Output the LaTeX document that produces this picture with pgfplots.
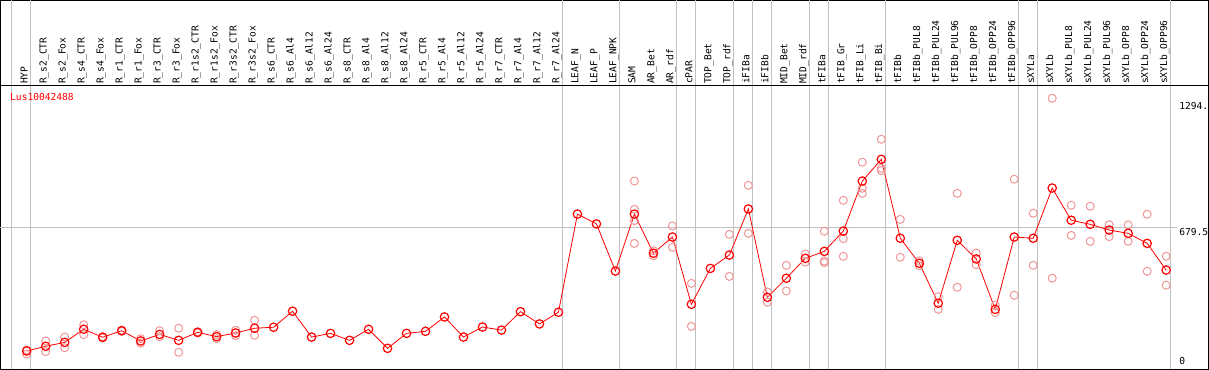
\documentclass[border=0pt]{standalone}
\usepackage{fontspec}
\setmonofont{DejaVu Sans Mono}
\usepackage{pgfplots}
\pgfplotsset{compat=1.18}
\definecolor{mainred}{RGB}{255,0,0}
\definecolor{palered}{RGB}{240,150,150}
\definecolor{sepgray}{RGB}{192,192,192}
\newcommand{\lab}[2]{\node[rotate=90, anchor=base west, inner sep=0pt] at (axis cs:#1+0.05,1380.5) {#2};}
\begin{document}
\begin{tikzpicture}
\begin{axis}[scale only axis, width=1208pt, height=369pt,
  xmin=-1.38, xmax=62.23, ymin=-12.2, ymax=1787.8,
  xtick=\empty, ytick=\empty,
  axis line style={black, line width=1pt},
  clip=false,
  font=\ttfamily\fontsize{9.6}{10}\selectfont]
% separators
\pgfplotsinvokeforeach{-0.8,0.22,28.22,31.22,34.22,35.22,37.22,38.22,39.22,41.22,42.22,45.22,52.22,53.22,60.22}{
  \draw[sepgray, line width=1pt] (axis cs:#1,-12.2) -- (axis cs:#1,1787.8);
}
\draw[sepgray, line width=1pt] (axis cs:-1.38,679.5) -- (axis cs:60.57,679.5);
\draw[black, line width=1pt] (axis cs:-1.38,1373) -- (axis cs:62.23,1373);
% category labels
\lab{0}{HYP}
\lab{1}{R\_s2\_CTR}
\lab{2}{R\_s2\_Fox}
\lab{3}{R\_s4\_CTR}
\lab{4}{R\_s4\_Fox}
\lab{5}{R\_r1\_CTR}
\lab{6}{R\_r1\_Fox}
\lab{7}{R\_r3\_CTR}
\lab{8}{R\_r3\_Fox}
\lab{9}{R\_r1s2\_CTR}
\lab{10}{R\_r1s2\_Fox}
\lab{11}{R\_r3s2\_CTR}
\lab{12}{R\_r3s2\_Fox}
\lab{13}{R\_s6\_CTR}
\lab{14}{R\_s6\_Al4}
\lab{15}{R\_s6\_Al12}
\lab{16}{R\_s6\_Al24}
\lab{17}{R\_s8\_CTR}
\lab{18}{R\_s8\_Al4}
\lab{19}{R\_s8\_Al12}
\lab{20}{R\_s8\_Al24}
\lab{21}{R\_r5\_CTR}
\lab{22}{R\_r5\_Al4}
\lab{23}{R\_r5\_Al12}
\lab{24}{R\_r5\_Al24}
\lab{25}{R\_r7\_CTR}
\lab{26}{R\_r7\_Al4}
\lab{27}{R\_r7\_Al12}
\lab{28}{R\_r7\_Al24}
\lab{29}{LEAF\_N}
\lab{30}{LEAF\_P}
\lab{31}{LEAF\_NPK}
\lab{32}{SAM}
\lab{33}{AR\_Bet}
\lab{34}{AR\_rdf}
\lab{35}{cPAR}
\lab{36}{TOP\_Bet}
\lab{37}{TOP\_rdf}
\lab{38}{iFIBa}
\lab{39}{iFIBb}
\lab{40}{MID\_Bet}
\lab{41}{MID\_rdf}
\lab{42}{tFIBa}
\lab{43}{tFIB\_Gr}
\lab{44}{tFIB\_Li}
\lab{45}{tFIB\_Bi}
\lab{46}{tFIBb}
\lab{47}{tFIBb\_PUL8}
\lab{48}{tFIBb\_PUL24}
\lab{49}{tFIBb\_PUL96}
\lab{50}{tFIBb\_OPP8}
\lab{51}{tFIBb\_OPP24}
\lab{52}{tFIBb\_OPP96}
\lab{53}{sXYLa}
\lab{54}{sXYLb}
\lab{55}{sXYLb\_PUL8}
\lab{56}{sXYLb\_PUL24}
\lab{57}{sXYLb\_PUL96}
\lab{58}{sXYLb\_OPP8}
\lab{59}{sXYLb\_OPP24}
\lab{60}{sXYLb\_OPP96}
% other texts
\node[anchor=base west, inner sep=0pt, text=mainred] at (axis cs:-0.88,1297.6) {Lus10042488};
\node[anchor=base west, inner sep=0pt] at (axis cs:60.68,1253.7) {1294.};
\node[anchor=base west, inner sep=0pt] at (axis cs:60.68,640.5) {679.5};
\node[anchor=base west, inner sep=0pt] at (axis cs:60.68,9.8) {0};
% replicates
\addplot[only marks, mark=o, mark size=4pt, palered, mark options={line width=1pt}] coordinates {
(0,83) (0,63) (1,127) (1,75) (2,146) (2,94) (3,206) (3,158) (4,148) (4,142)
(5,180) (5,174) (6,116) (6,138) (7,177) (7,148) (8,189) (8,72) (9,172) (9,166)
(10,158) (10,138) (11,179) (11,153) (12,228) (12,155)
(32,907) (32,769) (32,714) (32,603) (33,567) (33,543) (34,688) (34,584)
(35,408) (35,198) (37,647) (37,442) (38,886) (38,652) (39,366) (39,316)
(40,496) (40,371) (41,551) (41,512) (42,662) (42,517) (42,509)
(43,813) (43,626) (43,540) (44,999) (44,872) (44,847) (45,1111) (45,969) (45,958)
(46,720) (46,535) (47,494) (47,518) (48,343) (48,281) (49,847) (49,389)
(50,556) (50,499) (51,301) (51,265) (52,916) (52,350) (53,750) (53,496)
(54,1311) (54,433) (55,789) (55,642) (56,784) (56,613) (57,694) (57,636)
(58,693) (58,613) (59,745) (59,467) (60,540) (60,399)
};
% means
\addplot[mainred, line width=0.8pt, mark=o, mark size=4.2pt, mark options={line width=1.2pt}] coordinates {
(0,78) (1,101) (2,120) (3,184) (4,145) (5,177) (6,127) (7,159) (8,130) (9,169)
(10,148) (11,166) (12,189) (13,194) (14,272) (15,146) (16,164) (17,130) (18,184) (19,91)
(20,164) (21,174) (22,244) (23,146) (24,195) (25,180) (26,270) (27,210) (28,267) (29,746)
(30,698) (31,468) (32,746) (33,555) (34,634) (35,306) (36,481) (37,546) (38,771) (39,340)
(40,433) (41,530) (42,564) (43,663) (44,907) (45,1013) (46,628) (47,506) (48,311) (49,618)
(50,527) (51,281) (52,634) (53,628) (54,873) (55,716) (56,696) (57,668) (58,652) (59,603)
(60,473)
};
\end{axis}
\end{tikzpicture}
\end{document}
